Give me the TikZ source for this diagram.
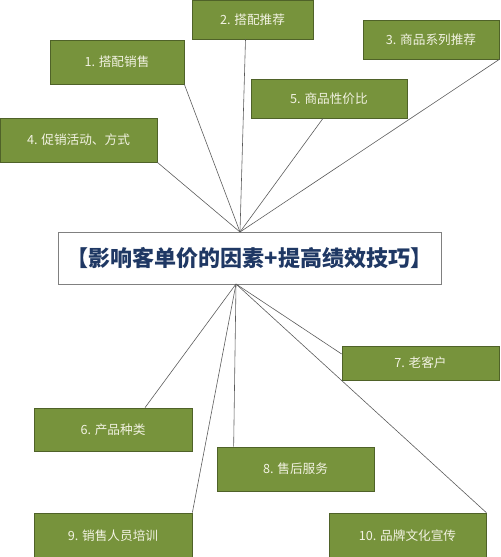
\documentclass[tikz,border=0pt]{standalone}
\usepackage{fontspec}
\newfontfamily\cjk{Noto Sans CJK SC}
\usetikzlibrary{calc}
\definecolor{olivebox}{RGB}{119,147,60}
\definecolor{oliveedge}{RGB}{79,98,40}
\definecolor{boxtext}{RGB}{242,242,226}
\definecolor{navytext}{RGB}{31,56,100}
\definecolor{linkgray}{RGB}{90,90,90}
\tikzset{
	factor/.style = {draw = oliveedge, fill = olivebox, line width = 0.6pt, inner sep = 0pt, text = boxtext, font = \cjk\fontsize{10.8}{12}\selectfont},
	hub/.style = {draw = gray, fill = white, line width = 0.6pt, inner sep = 0pt, text = navytext, font = \cjk\bfseries\fontsize{18.8}{20}\selectfont},
	link/.style = {draw = linkgray, line width = 0.5pt}
}
\begin{document}
\begin{tikzpicture}[x = 0.03cm, y = -0.03cm]
								\clip (0, 0) rectangle (500, 557);
								\fill[white] (0, 0) rectangle (500, 557);
								\node[hub, minimum width = 383*0.03cm, minimum height = 52*0.03cm] (hub) at (249.5, 258){【影响客单价的因素+提高绩效技巧】};
								\node[factor, minimum width = 134*0.03cm, minimum height = 44*0.03cm] (f1) at (117, 62){1. 搭配销售};
								\node[factor, minimum width = 121*0.03cm, minimum height = 39*0.03cm] (f2) at (252.5, 19.5){2. 搭配推荐};
								\node[factor, minimum width = 136*0.03cm, minimum height = 39*0.03cm] (f3) at (431, 39.5){3. 商品系列推荐};
								\node[factor, minimum width = 157*0.03cm, minimum height = 44*0.03cm] (f4) at (78.5, 140){4. 促销活动、方式};
								\node[factor, minimum width = 156*0.03cm, minimum height = 39*0.03cm] (f5) at (329, 98.5){5. 商品性价比};
								\node[factor, minimum width = 158*0.03cm, minimum height = 43*0.03cm] (f6) at (113, 429.5){6. 产品种类};
								\node[factor, minimum width = 157*0.03cm, minimum height = 34*0.03cm] (f7) at (420.5, 363){7. 老客户};
								\node[factor, minimum width = 157*0.03cm, minimum height = 44*0.03cm] (f8) at (295.5, 469){8. 售后服务};
								\node[factor, minimum width = 158*0.03cm, minimum height = 46*0.03cm] (f9) at (113, 536){9. 销售人员培训};
								\node[factor, minimum width = 157*0.03cm, minimum height = 46*0.03cm] (f10) at (407.5, 536){10. 品牌文化宣传};
								\coordinate (hubtop) at (240, 232);
								\coordinate (hubbot) at (236, 284);
								\draw[link] (f1.south east) -- (hubtop);
								\draw[link] ($(f2.south) + (-7, 0)$) -- (hubtop);
								\draw[link] (f3.south east) -- (hubtop);
								\draw[link] (f4.south east) -- (hubtop);
								\draw[link] ($(f5.south) + (-6, 0)$) -- (hubtop);
								\draw[link] (hubbot) -- ($(f6.north) + (32, 0)$);
								\draw[link] (hubbot) -- ($(f7.west) + (0, -9)$);
								\draw[link] (hubbot) -- ($(f8.north west) + (17, 0)$);
								\draw[link] (hubbot) -- (f9.north east);
								\draw[link] (hubbot) -- (f10.north east);
							\end{tikzpicture}
\end{document}
